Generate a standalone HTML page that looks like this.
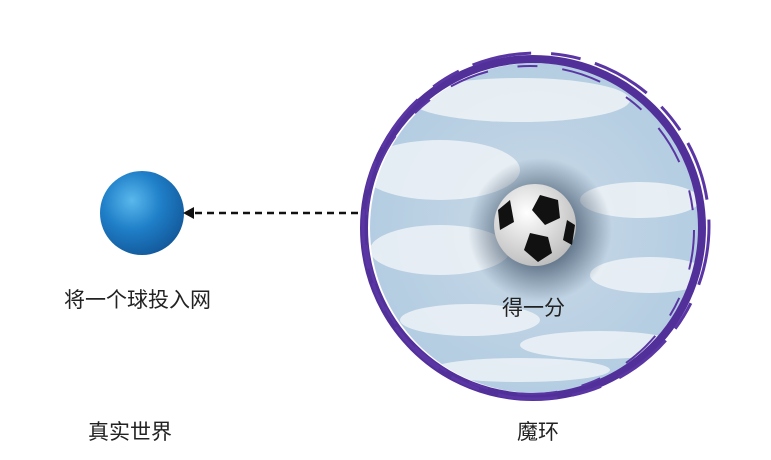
<!DOCTYPE html>
<html><head><meta charset="utf-8"><style>
body{margin:0;background:#fff;width:771px;height:460px;overflow:hidden;position:relative;font-family:"Liberation Sans","Noto Sans CJK SC",sans-serif;color:#222}
.t{position:absolute;font-size:21px;white-space:nowrap}
</style></head><body>
<svg width="771" height="460" style="position:absolute;left:0;top:0">
<defs>
<radialGradient id="bb" cx="0.38" cy="0.35" r="0.7">
<stop offset="0" stop-color="#5ab8ec"/><stop offset="0.5" stop-color="#1f7fc8"/><stop offset="1" stop-color="#13589a"/></radialGradient>
<radialGradient id="sky" cx="0.5" cy="0.5" r="0.5">
<stop offset="0" stop-color="#c9d9e6"/><stop offset="1" stop-color="#b4cde2"/></radialGradient>
<radialGradient id="sh" cx="0.5" cy="0.5" r="0.5">
<stop offset="0.4" stop-color="#2a3e55" stop-opacity="0.7"/><stop offset="1" stop-color="#2a3e55" stop-opacity="0"/></radialGradient>
<radialGradient id="sb" cx="0.4" cy="0.35" r="0.7">
<stop offset="0" stop-color="#fff"/><stop offset="1" stop-color="#bbb"/></radialGradient>
<clipPath id="c"><circle cx="535" cy="228" r="165"/></clipPath>
</defs>
<circle cx="142" cy="213" r="42" fill="url(#bb)"/>
<line x1="358" y1="213" x2="192" y2="213" stroke="#111" stroke-width="2.5" stroke-dasharray="7,5"/>
<polygon points="183,213 194,207 194,219" fill="#111"/>
<circle cx="535" cy="228" r="165" fill="url(#sky)"/>
<g clip-path="url(#c)" fill="#eef3f7" opacity="0.85">
<ellipse cx="520" cy="100" rx="110" ry="22"/>
<ellipse cx="440" cy="170" rx="80" ry="30"/>
<ellipse cx="640" cy="200" rx="60" ry="18"/>
<ellipse cx="440" cy="250" rx="70" ry="25"/>
<ellipse cx="650" cy="275" rx="60" ry="18"/>
<ellipse cx="470" cy="320" rx="70" ry="16"/>
<ellipse cx="600" cy="345" rx="80" ry="14"/>
<ellipse cx="520" cy="370" rx="90" ry="12"/>
</g>
<circle cx="540" cy="230" r="72" fill="url(#sh)"/>
<circle cx="535" cy="225" r="41" fill="url(#sb)"/>
<polygon points="540,195 558,200 560,218 545,225 532,210" fill="#111"/>
<polygon points="530,233 548,237 552,253 538,262 524,250" fill="#111"/>
<polygon points="498,210 510,200 514,222 500,230" fill="#111"/>
<path d="M567,220 L575,225 L572,245 L563,240Z" fill="#111"/>
<circle cx="533" cy="228" r="169" fill="none" stroke="#52309a" stroke-width="8"/>
<circle cx="536" cy="226" r="173" fill="none" stroke="#5a36a4" stroke-width="3" stroke-dasharray="60,20,30,15"/>
<circle cx="530" cy="230" r="164" fill="none" stroke="#5a36a4" stroke-width="2" stroke-dasharray="40,30,20,25"/>
</svg>
<div class="t" style="left:64px;top:284px">将一个球投入网</div>
<div class="t" style="left:502px;top:292px">得一分</div>
<div class="t" style="left:88px;top:416px">真实世界</div>
<div class="t" style="left:517px;top:416px">魔环</div>
</body></html>
